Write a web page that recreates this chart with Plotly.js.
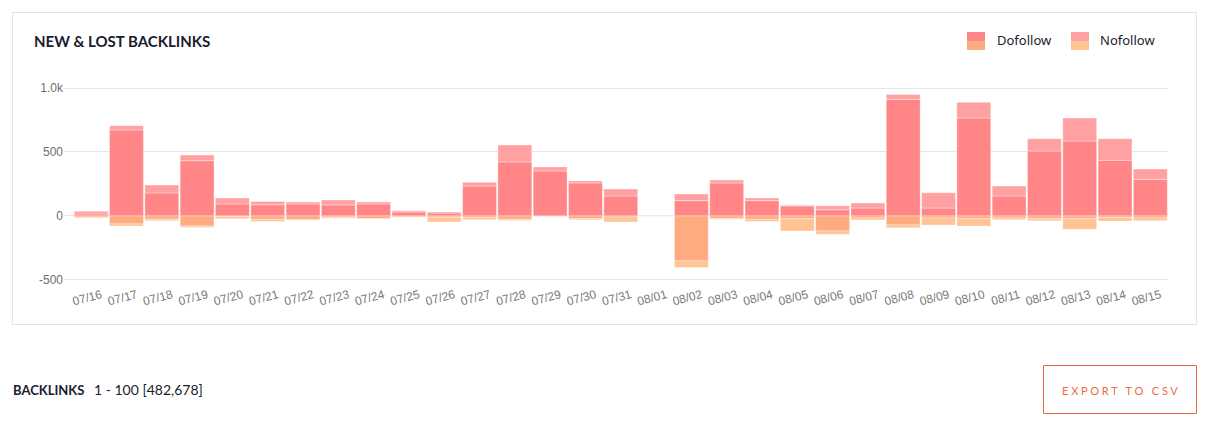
<!DOCTYPE html>
<html>
<head>
<meta charset="utf-8">
<script src="https://cdn.plot.ly/plotly-3.0.1.min.js"></script>
<style>
  html, body { margin: 0; padding: 0; background: #ffffff; }
  #chart { width: 1217px; height: 424px; }
</style>
</head>
<body>
<div id="chart"></div>
<script>
// ---- data ----
const dates = ['07/16','07/17','07/18','07/19','07/20','07/21','07/22','07/23','07/24','07/25','07/26','07/27','07/28','07/29','07/30','07/31',
               '08/01','08/02','08/03','08/04','08/05','08/06','08/07','08/08','08/09','08/10','08/11','08/12','08/13','08/14','08/15'];
const dofollowNew  = [16, 672, 180, 432, 94, 88, 94, 86, 94, 31, 23, 234, 422, 352, 258, 156, 5, 120, 258, 120, 78, 49, 62, 911, 62, 766, 156, 508, 586, 435, 286];
const nofollowNew  = [21, 34, 62, 44, 47, 26, 16, 39, 16, 10, 8, 29, 133, 31, 16, 55, 3, 52, 23, 21, 5, 31, 39, 39, 120, 122, 78, 96, 180, 169, 81];
const dofollowLost = [10, 62, 25, 78, 5, 26, 29, 10, 21, 8, 10, 13, 26, 5, 21, 8, 2, 351, 21, 26, 21, 117, 16, 70, 16, 21, 16, 21, 21, 13, 16];
const nofollowLost = [5, 16, 12, 10, 16, 18, 5, 8, 3, 2, 37, 16, 10, 2, 8, 39, 1, 52, 5, 18, 96, 26, 16, 23, 55, 57, 13, 16, 83, 26, 21];
const yTickVals = [-500, 0, 500, 1000];
const yTickText = ['-500', '0', '500', '1.0k'];
const legendLabels = ['Dofollow', 'Nofollow'];

// ---- styles ----
const C_DO_NEW = 'rgb(255,133,134)';
const C_NO_NEW = 'rgb(255,161,162)';
const C_DO_LOST = 'rgb(255,171,128)';
const C_NO_LOST = 'rgb(255,195,148)';

// plot area in pixels
const PL = 64, PR = 1168, PT = 82, PB = 282;
const W = 1217, H = 424;
const px = x => (x - PL) / (PR - PL);
const py = y => (PB - y) / (PB - PT);

const barLine = {color: 'rgba(255,255,255,0.35)', width: 1};
const traces = [
  {type: 'bar', name: 'Dofollow new', x: dates, y: dofollowNew, marker: {color: C_DO_NEW, line: barLine}},
  {type: 'bar', name: 'Nofollow new', x: dates, y: nofollowNew, marker: {color: C_NO_NEW, line: barLine}},
  {type: 'bar', name: 'Dofollow lost', x: dates, y: dofollowLost.map(v => -v), marker: {color: C_DO_LOST, line: barLine}},
  {type: 'bar', name: 'Nofollow lost', x: dates, y: nofollowLost.map(v => -v), marker: {color: C_NO_LOST, line: barLine}}
];

const darkText = '#1b1b2f';
const shapes = [
  // card border
  {type: 'rect', xref: 'paper', yref: 'paper', x0: px(12.5), x1: px(1196.5), y0: py(12.5), y1: py(324.5),
   line: {color: '#e3e3e6', width: 1}, fillcolor: 'rgba(0,0,0,0)', layer: 'below'},
  // legend swatches
  {type: 'rect', xref: 'paper', yref: 'paper', x0: px(967), x1: px(985), y0: py(41), y1: py(32), line: {width: 0}, fillcolor: C_DO_NEW},
  {type: 'rect', xref: 'paper', yref: 'paper', x0: px(967), x1: px(985), y0: py(50), y1: py(41), line: {width: 0}, fillcolor: C_DO_LOST},
  {type: 'rect', xref: 'paper', yref: 'paper', x0: px(1071), x1: px(1089), y0: py(41), y1: py(32), line: {width: 0}, fillcolor: C_NO_NEW},
  {type: 'rect', xref: 'paper', yref: 'paper', x0: px(1071), x1: px(1089), y0: py(50), y1: py(41), line: {width: 0}, fillcolor: C_NO_LOST},
  // export button
  {type: 'rect', xref: 'paper', yref: 'paper', x0: px(1043.5), x1: px(1196.5), y0: py(365.5), y1: py(413.5),
   line: {color: '#f0653e', width: 1}, fillcolor: 'rgba(0,0,0,0)'}
];

const annotations = [
  {text: '<b>NEW &amp; LOST BACKLINKS</b>', xref: 'paper', yref: 'paper', x: px(32), y: py(41),
   xanchor: 'left', yanchor: 'middle', showarrow: false,
   font: {family: 'Lato, "Open Sans", sans-serif', size: 15, color: darkText}},
  {text: legendLabels[0], xref: 'paper', yref: 'paper', x: px(995), y: py(40),
   xanchor: 'left', yanchor: 'middle', showarrow: false,
   font: {family: '"Noto Sans", sans-serif', size: 13, color: darkText}},
  {text: legendLabels[1], xref: 'paper', yref: 'paper', x: px(1098), y: py(40),
   xanchor: 'left', yanchor: 'middle', showarrow: false,
   font: {family: '"Noto Sans", sans-serif', size: 13, color: darkText}},
  {text: '<b>BACKLINKS</b>', xref: 'paper', yref: 'paper', x: px(11), y: py(390),
   xanchor: 'left', yanchor: 'middle', showarrow: false,
   font: {family: 'Lato, sans-serif', size: 13, color: darkText}},
  {text: '1 - 100 [482,678]', xref: 'paper', yref: 'paper', x: px(92), y: py(389),
   xanchor: 'left', yanchor: 'middle', showarrow: false,
   font: {family: 'Lato, sans-serif', size: 14, color: darkText}},
  {text: 'E X P O R T   T O   C S V', xref: 'paper', yref: 'paper', x: px(1120), y: py(390),
   xanchor: 'center', yanchor: 'middle', showarrow: false,
   font: {family: 'Lato, sans-serif', size: 11, color: '#ee6a45'}}
];

const layout = {
  width: W, height: H,
  margin: {l: PL, r: W - PR, t: PT, b: H - PB, pad: 0},
  paper_bgcolor: '#ffffff', plot_bgcolor: '#ffffff',
  barmode: 'relative', bargap: 0.04,
  showlegend: false,
  xaxis: {
    type: 'category', range: [-0.77, 30.5],
    showgrid: false, zeroline: false, showline: false, ticks: '',
    tickangle: -15, ticklabelshift: 10, ticklabelstandoff: 3,
    tickfont: {family: '"Liberation Sans", Arial, sans-serif', size: 12, color: '#7a7a7a'},
    fixedrange: true
  },
  yaxis: {
    range: [-516, 1047],
    tickvals: yTickVals, ticktext: yTickText,
    showgrid: true, gridcolor: '#e6e6ea', gridwidth: 1,
    zeroline: true, zerolinecolor: '#e6e6ea', zerolinewidth: 1,
    showline: false, ticks: '', ticklabelstandoff: 0,
    tickfont: {family: '"Liberation Sans", Arial, sans-serif', size: 12, color: '#6e6e6e'},
    fixedrange: true
  },
  shapes: shapes,
  annotations: annotations
};

Plotly.newPlot('chart', traces, layout, {displayModeBar: false, staticPlot: true});
</script>
</body>
</html>
